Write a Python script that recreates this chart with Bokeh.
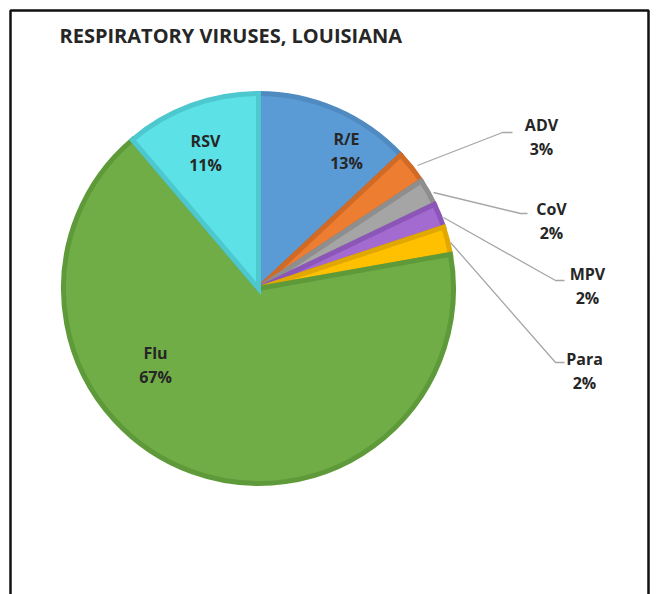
import numpy as np
from bokeh.plotting import figure
from bokeh.models import Range1d, ColumnDataSource
from bokeh.core.properties import value
from bokeh.embed import file_html
from bokeh.resources import INLINE

# ---- data ----
categories = ["R/E", "ADV", "CoV", "MPV", "Para", "Flu", "RSV"]
shares = [13.0, 2.7, 2.2, 2.0, 2.3, 66.6, 11.2]
title_text = "RESPIRATORY VIRUSES, LOUISIANA"

# ---- styles ----
fill_colors = ["#5B9BD5", "#ED7D31", "#A5A5A5", "#A36BD0", "#FFC000", "#70AD47", "#5CE1E6"]
edge_colors = ["#4F8AC0", "#D06A25", "#8E8E8E", "#8C55B8", "#E0A800", "#5E9A3A", "#4CC8CE"]

W, H = 657, 594
OX, OY = 0, 0  # page offset of the figure
FONT = "Open Sans"

def P(px, py):
    """page pixel -> data coordinate"""
    return px - OX, (H + OY) - py

p = figure(width=W, height=H, output_backend="svg", toolbar_location=None,
           x_range=Range1d(0, W), y_range=Range1d(0, H),
           min_border=0, outline_line_color=None)
p.axis.visible = False
p.grid.visible = False
p.background_fill_color = "white"
p.border_fill_color = "white"

# frame
fx0, fy0 = P(10, 10)
fx1, _ = P(648, 10)
_, fyb = P(0, 620)
p.line([fx0, fx0, fx1, fx1], [fyb, fy0, fy0, fyb], line_color="#111111", line_width=2.5)

# title
tx, ty = P(59, 35)
p.text([tx], [ty], text=[title_text], text_font=value(FONT), text_font_style="bold",
       text_font_size="20px", text_color="#262626", text_align="left", text_baseline="middle")

# pie
cx, cy = P(258, 288)
R = 195
total = sum(shares)
frac = np.array(shares) / total
cum = np.concatenate([[0], np.cumsum(frac)])
starts = np.pi / 2 - 2 * np.pi * cum[:-1]
ends = np.pi / 2 - 2 * np.pi * cum[1:]
src = ColumnDataSource(dict(start=starts, end=ends, fill=fill_colors, edge=edge_colors))
p.wedge(x=cx, y=cy, radius=R, start_angle="start", end_angle="end", direction="clock",
        fill_color="fill", line_color="edge", line_width=5, line_join="miter", source=src)

pct_labels = [f"{round(s / total * 100):.0f}%" for s in shares]

# label positions (page px): name line center
label_pos = {"R/E": (346, 138), "ADV": (541, 124), "CoV": (551, 208), "MPV": (587, 273),
             "Para": (584, 358), "Flu": (155, 352), "RSV": (205, 140)}
for cat, pct in zip(categories, pct_labels):
    lx, ly = label_pos[cat]
    x1, y1 = P(lx, ly)
    x2, y2 = P(lx, ly + 24)
    p.text([x1, x2], [y1, y2], text=[cat, pct], text_font=value(FONT), text_font_style="bold",
           text_font_size="16px", text_color="#262626", text_align="center", text_baseline="middle")

# leader lines (page px)
leaders = [
    [(417, 165), (502, 132), (512, 132)],
    [(433, 192), (520, 213), (527, 213)],
    [(443, 217), (555, 280), (564, 280)],
    [(450, 242), (555, 362), (564, 362)],
]
xs, ys = [], []
for pts in leaders:
    d = [P(a, b) for a, b in pts]
    xs.append([q[0] for q in d])
    ys.append([q[1] for q in d])
p.multi_line(xs, ys, line_color="#A6A6A6", line_width=1.3)

open("out.html", "w").write(file_html(p, INLINE))
